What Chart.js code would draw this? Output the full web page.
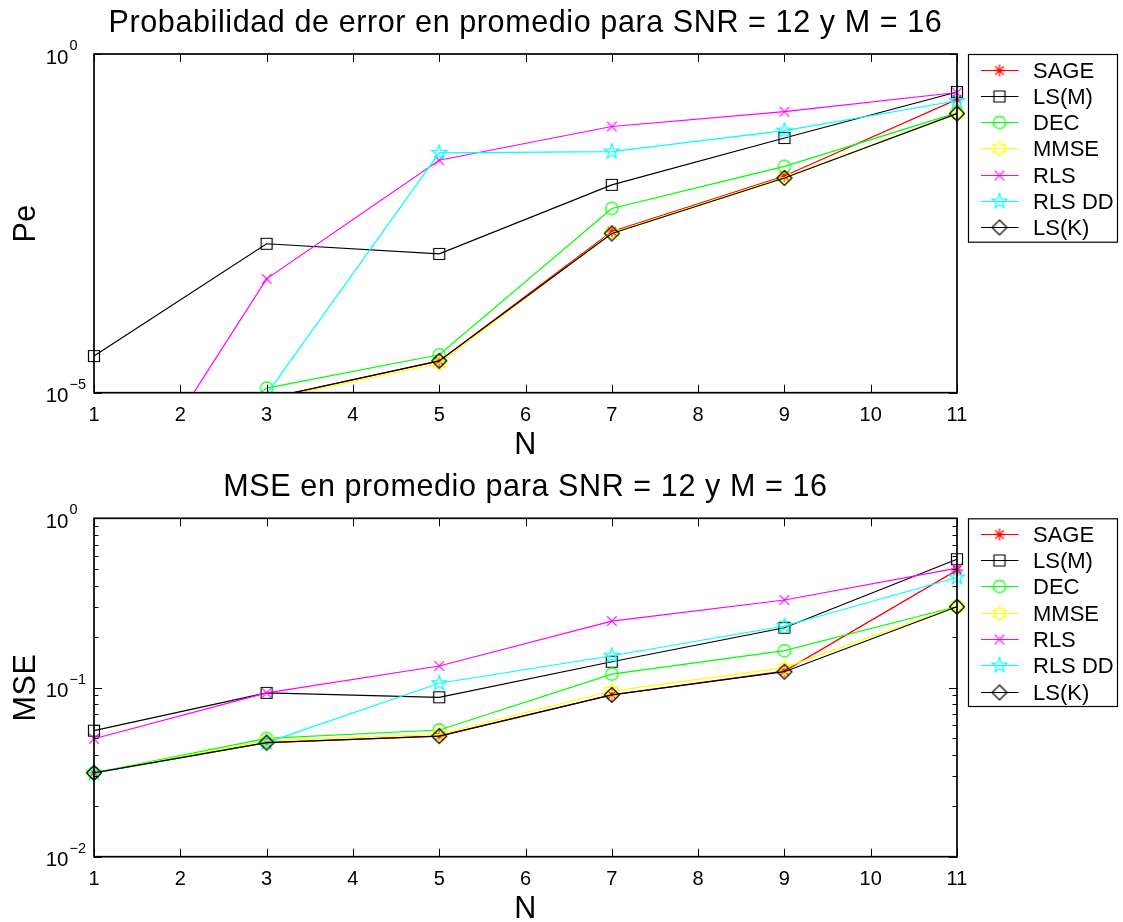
<!DOCTYPE html>
<html><head><meta charset="utf-8">
<script src="https://cdn.jsdelivr.net/npm/chart.js@4.4.1/dist/chart.umd.min.js"></script>
<style>
html,body{margin:0;padding:0;background:#fff;}
#wrap{position:relative;width:1123px;height:922px;background:#fff;}
canvas{position:absolute;left:0;}
</style></head><body>
<div id="wrap">
<canvas id="c1" width="1123" height="461" style="top:0px"></canvas>
<canvas id="c2" width="1123" height="461" style="top:461px"></canvas>
</div>
<script>
// ---------- data ----------
const N = [1, 3, 5, 7, 9, 11];
const seriesNames   = ['SAGE', 'LS(M)', 'DEC', 'MMSE', 'RLS', 'RLS DD', 'LS(K)'];
const seriesColors  = ['#ff0000', '#000000', '#00ff00', '#ffff00', '#ff00ff', '#00ffff', '#000000'];
const seriesMarkers = ['asterisk', 'square', 'circle', 'hexagram', 'x', 'pentagram', 'diamond'];

// Probabilidad de error (Pe)
const peSAGE  = [2.0e-6, 8.2e-6, 2.95e-5, 2.4e-3, 1.58e-2, 0.214];
const peLSM   = [3.47e-5, 1.58e-3, 1.12e-3, 1.17e-2, 5.75e-2, 0.275];
const peDEC   = [1.0e-7, 1.17e-5, 3.63e-5, 5.25e-3, 2.19e-2, 0.135];
const peMMSE  = [2.0e-6, 7.9e-6, 2.7e-5, 2.3e-3, 1.51e-2, 0.132];
const peRLS   = [5.0e-8, 4.8e-4, 2.7e-2, 8.5e-2, 0.141, 0.27];
const peRLSDD = [1.0e-7, 9.5e-6, 3.47e-2, 3.63e-2, 7.4e-2, 0.204];
const peLSK   = [2.0e-6, 8.2e-6, 2.95e-5, 2.24e-3, 1.48e-2, 0.132];

// MSE
const mseSAGE  = [0.0313, 0.0472, 0.0516, 0.0904, 0.125, 0.494];
const mseLSM   = [0.0556, 0.093, 0.0875, 0.142, 0.2256, 0.573];
const mseDEC   = [0.0313, 0.050, 0.0561, 0.120, 0.165, 0.301];
const mseMMSE  = [0.0313, 0.0485, 0.0528, 0.0953, 0.131, 0.302];
const mseRLS   = [0.0498, 0.093, 0.134, 0.247, 0.329, 0.507];
const mseRLSDD = [0.0313, 0.0472, 0.106, 0.154, 0.231, 0.447];
const mseLSK   = [0.0313, 0.0472, 0.0516, 0.0904, 0.124, 0.300];

const xTickValues = [1, 2, 3, 4, 5, 6, 7, 8, 9, 10, 11];
const xTickLabels = ['1', '2', '3', '4', '5', '6', '7', '8', '9', '10', '11'];
const peYTickValues = [1, 1e-5];
const peYTickExps   = ['0', '\u22125'];
const mseYTickValues = [1, 0.1, 0.01];
const mseYTickExps   = ['0', '\u22121', '\u22122'];

const titles = ['Probabilidad de error en promedio para SNR = 12 y M = 16', 'MSE en promedio para SNR = 12 y M = 16'];
const yLabels = ['Pe', 'MSE'];
const xLabel = 'N';

// ---------- markers ----------
function makeMarker(type, color) {
  const S = 22, c = document.createElement('canvas');
  c.width = S; c.height = S;
  const g = c.getContext('2d');
  g.strokeStyle = color; g.lineWidth = 1.2; g.lineJoin = 'miter';
  const m = S / 2;
  g.beginPath();
  if (type === 'asterisk') {
    const r = 6;
    for (let k = 0; k < 4; k++) {
      const a = k * Math.PI / 4;
      g.moveTo(m - r * Math.cos(a), m - r * Math.sin(a));
      g.lineTo(m + r * Math.cos(a), m + r * Math.sin(a));
    }
  } else if (type === 'square') {
    g.rect(m - 5.5, m - 5.5, 11, 11);
  } else if (type === 'circle') {
    g.arc(m, m, 6.2, 0, Math.PI * 2);
  } else if (type === 'x') {
    const r = 4.8;
    g.moveTo(m - r, m - r); g.lineTo(m + r, m + r);
    g.moveTo(m - r, m + r); g.lineTo(m + r, m - r);
  } else if (type === 'diamond') {
    const r = 7.5;
    g.moveTo(m, m - r); g.lineTo(m + r, m); g.lineTo(m, m + r); g.lineTo(m - r, m); g.closePath();
  } else if (type === 'pentagram' || type === 'hexagram') {
    const n = type === 'pentagram' ? 5 : 6;
    const R = type === 'pentagram' ? 7.8 : 7.4;
    const ri = type === 'pentagram' ? R * 0.40 : R / Math.sqrt(3);
    for (let k = 0; k < 2 * n; k++) {
      const rr = k % 2 === 0 ? R : ri;
      const a = -Math.PI / 2 + k * Math.PI / n;
      const px = m + rr * Math.cos(a), py = m + rr * Math.sin(a);
      if (k === 0) g.moveTo(px, py); else g.lineTo(px, py);
    }
    g.closePath();
  }
  g.stroke();
  return c;
}
const markerImgs = seriesMarkers.map((t, i) => makeMarker(t, seriesColors[i]));

// ---------- plugins ----------
const FONT = "'Liberation Sans', Arial, Helvetica, sans-serif";

const decorPlugin = {
  id: 'decor',
  afterDraw(chart, args, o) {
    const ctx = chart.ctx, a = chart.chartArea, xs = chart.scales.x, ys = chart.scales.y;
    ctx.save();
    ctx.strokeStyle = '#000'; ctx.fillStyle = '#000';
    // ticks
    ctx.lineWidth = 1;
    ctx.beginPath();
    xTickValues.forEach(v => {
      const px = Math.round(xs.getPixelForValue(v)) + 0.5;
      ctx.moveTo(px, a.bottom); ctx.lineTo(px, a.bottom - 8);
      ctx.moveTo(px, a.top); ctx.lineTo(px, a.top + 8);
    });
    o.yMajor.forEach(v => {
      const py = Math.round(ys.getPixelForValue(v)) + 0.5;
      ctx.moveTo(a.left, py); ctx.lineTo(a.left + 8, py);
      ctx.moveTo(a.right, py); ctx.lineTo(a.right - 8, py);
    });
    (o.yMinor || []).forEach(v => {
      const py = Math.round(ys.getPixelForValue(v)) + 0.5;
      ctx.moveTo(a.left, py); ctx.lineTo(a.left + 4.5, py);
      ctx.moveTo(a.right, py); ctx.lineTo(a.right - 4.5, py);
    });
    ctx.stroke();
    // frame
    ctx.lineWidth = 1.7;
    ctx.strokeRect(a.left, a.top, a.right - a.left, a.bottom - a.top);
    // x tick labels
    ctx.font = '20px ' + FONT;
    ctx.textAlign = 'center'; ctx.textBaseline = 'alphabetic';
    xTickValues.forEach((v, i) => {
      ctx.fillText(xTickLabels[i], xs.getPixelForValue(v), a.bottom + 28);
    });
    // y tick labels 10^k
    o.yMajor.forEach((v, i) => {
      const py = ys.getPixelForValue(v);
      ctx.font = '20.5px ' + FONT; ctx.textAlign = 'right';
      ctx.fillText('10', 68.5, py + 9.5);
      ctx.font = '14.5px ' + FONT; ctx.textAlign = 'left';
      ctx.fillText(o.yExps[i], 69.5, py - 4);
    });
    // big labels
    ctx.font = '30.5px ' + FONT;
    try { ctx.letterSpacing = '0.6px'; } catch (e) {}
    ctx.textAlign = 'center';
    const cx = (a.left + a.right) / 2;
    ctx.fillText(o.title, cx, a.top - 22.3);
    ctx.fillText(xLabel, cx, a.bottom + 61);
    ctx.save();
    ctx.translate(35, (a.top + a.bottom) / 2);
    ctx.rotate(-Math.PI / 2);
    ctx.fillText(o.ylabel, 0, 0);
    ctx.restore();
    try { ctx.letterSpacing = '0px'; } catch (e) {}
    // legend
    const lx = 968.5, lw = 149, lt = a.top + 0.5, lh = 187.7, rowH = 26.3;
    ctx.lineWidth = 1.2;
    ctx.strokeStyle = '#000';
    ctx.strokeRect(lx, lt, lw, lh);
    ctx.font = '22px ' + FONT; ctx.textAlign = 'left';
    seriesNames.forEach((name, i) => {
      const cy = lt + 15 + i * rowH;
      ctx.strokeStyle = seriesColors[i];
      ctx.lineWidth = 1.2;
      ctx.beginPath(); ctx.moveTo(981, Math.round(cy) + 0.5); ctx.lineTo(1018.5, Math.round(cy) + 0.5); ctx.stroke();
      const img = markerImgs[i];
      ctx.drawImage(img, 999.5 - img.width / 2, Math.round(cy) + 0.5 - img.height / 2);
      ctx.fillStyle = '#000';
      ctx.fillText(name, 1033, cy + 8);
    });
    ctx.restore();
  }
};

function buildDatasets(arrays, yMin, yMax, clip) {
  return arrays.map((arr, i) => ({
    label: seriesNames[i],
    data: N.map((n, k) => ({ x: n, y: arr[k] })),
    borderColor: seriesColors[i],
    backgroundColor: 'transparent',
    borderWidth: 1.2,
    fill: false,
    tension: 0,
    pointStyle: markerImgs[i],
    pointRadius: c => (c.raw && (c.raw.y < yMin * 0.999 || c.raw.y > yMax * 1.001)) ? 0 : 7,
    pointHoverRadius: 0,
    order: arrays.length - 1 - i,
    clip: clip
  }));
}

function makeChart(id, arrays, yMin, yMax, pad, decor, clip) {
  return new Chart(document.getElementById(id), {
    type: 'line',
    data: { datasets: buildDatasets(arrays, yMin, yMax, clip) },
    options: {
      responsive: false,
      animation: false,
      events: [],
      devicePixelRatio: 1,
      layout: { padding: pad },
      plugins: { legend: { display: false }, tooltip: { enabled: false }, title: { display: false }, decor: decor },
      scales: {
        x: { type: 'linear', min: 1, max: 11, display: false },
        y: { type: 'logarithmic', min: yMin, max: yMax, display: false }
      }
    },
    plugins: [decorPlugin]
  });
}

const mseMinor = [];
[0.01, 0.1].forEach(d => { for (let k = 2; k <= 9; k++) mseMinor.push(d * k); });

makeChart('c1', [peSAGE, peLSM, peDEC, peMMSE, peRLS, peRLSDD, peLSK], 1e-5, 1,
  { left: 94, right: 166, top: 54, bottom: 68.3 },
  { title: titles[0], ylabel: yLabels[0], yMajor: peYTickValues, yExps: peYTickExps, yMinor: [] },
  { left: 12, right: 12, top: 12, bottom: 0 });

makeChart('c2', [mseSAGE, mseLSM, mseDEC, mseMMSE, mseRLS, mseRLSDD, mseLSK], 0.01, 1,
  { left: 94, right: 166, top: 57.3, bottom: 65.3 },
  { title: titles[1], ylabel: yLabels[1], yMajor: mseYTickValues, yExps: mseYTickExps, yMinor: mseMinor },
  { left: 12, right: 12, top: 12, bottom: 12 });
</script>
</body></html>
